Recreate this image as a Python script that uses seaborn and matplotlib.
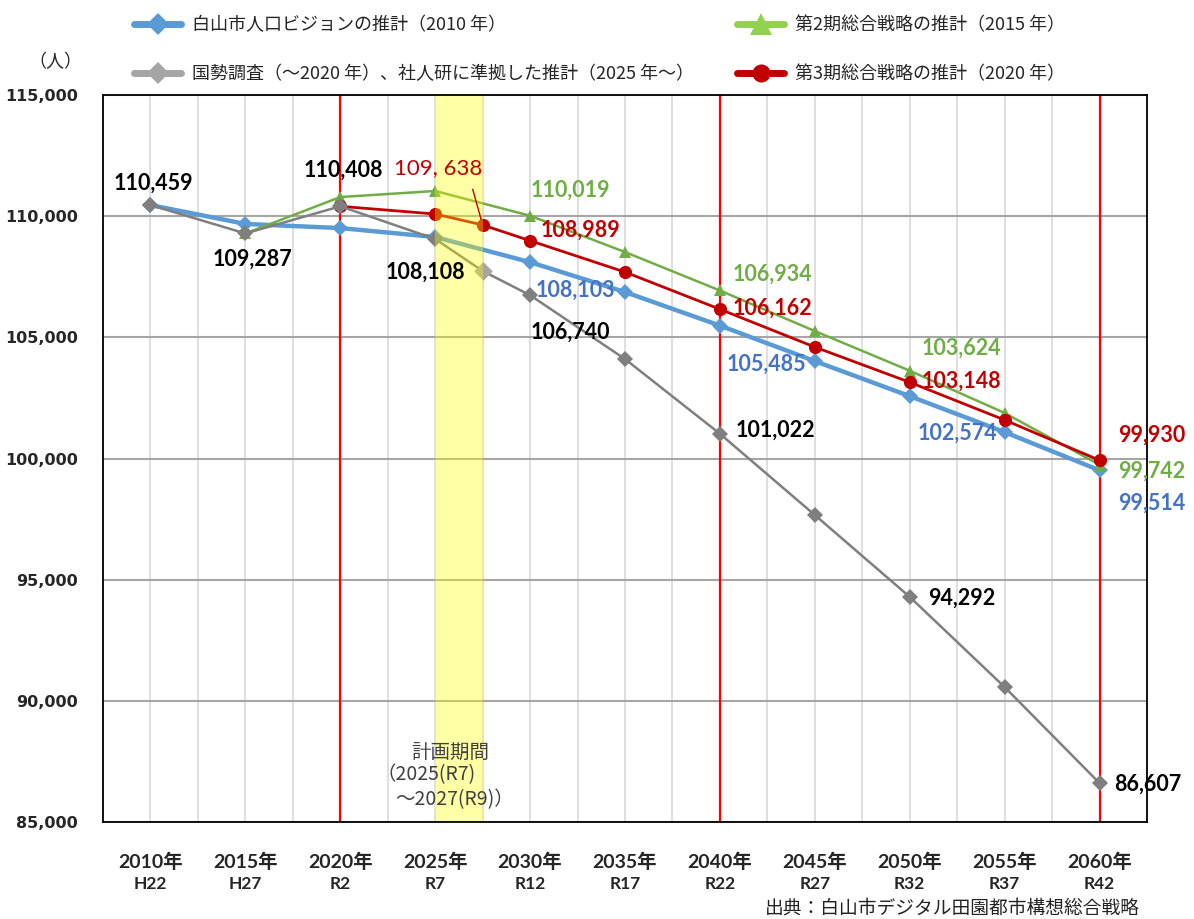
import pandas as pd
import seaborn as sns
import matplotlib.pyplot as plt
from matplotlib.lines import Line2D

# ---- data ----
years = [2010, 2015, 2020, 2025, 2030, 2035, 2040, 2045, 2050, 2055, 2060]
era = ['H22', 'H27', 'R2', 'R7', 'R12', 'R17', 'R22', 'R27', 'R32', 'R37', 'R42']

blue_years = years
blue_vals = [110459, 109680, 109510, 109140, 108103, 106870, 105485, 104020, 102574, 101090, 99514]

green_years = [2015, 2020, 2025, 2030, 2035, 2040, 2045, 2050, 2055, 2060]
green_vals = [109287, 110790, 111040, 110019, 108520, 106934, 105260, 103624, 101880, 99742]

red_years = [2020, 2025, 2027.5, 2030, 2035, 2040, 2045, 2050, 2055, 2060]
red_vals = [110408, 110090, 109638, 108989, 107695, 106162, 104600, 103148, 101590, 99930]

gray_years = [2010, 2015, 2020, 2025, 2027.5, 2030, 2035, 2040, 2045, 2050, 2055, 2060]
gray_vals = [110459, 109287, 110408, 109060, 107740, 106740, 104105, 101022, 97670, 94292, 90570, 86607]
gray_light_year = 2027.5

plan_start, plan_end = 2025, 2027.5
red_marks = [2020, 2040, 2060]

series_names = ['白山市人口ビジョンの推計（2010 年）',
                '国勢調査（～2020 年）、社人研に準拠した推計（2025 年～）',
                '第2期総合戦略の推計（2015 年）',
                '第3期総合戦略の推計（2020 年）']

# (series, year, text, dx px, dy px)
point_labels = [
    ('gray', 2010, '110,459', 3, 22), ('gray', 2015, '109,287', 7, -26),
    ('gray', 2020, '110,408', 3, 36), ('gray', 2027.5, '108,108', -57, -1),
    ('green', 2030, '110,019', 40, 26), ('red', 2030, '108,989', 50, 10),
    ('blue', 2030, '108,103', 45, -28), ('gray', 2030, '106,740', 40, -37),
    ('green', 2040, '106,934', 53, 16), ('red', 2040, '106,162', 53, 1),
    ('blue', 2040, '105,485', 47, -39), ('gray', 2040, '101,022', 56, 4),
    ('green', 2050, '103,624', 52, 23), ('red', 2050, '103,148', 52, 1),
    ('blue', 2050, '102,574', 48, -37), ('gray', 2050, '94,292', 52, -1),
    ('red', 2060, '99,930', 52, 25), ('green', 2060, '99,742', 52, -6),
    ('blue', 2060, '99,514', 52, -33), ('gray', 2060, '86,607', 48, -1),
]

sns.set_theme(style='white')
plt.rcParams['font.family'] = ['Noto Sans CJK JP', 'DejaVu Sans']

c_blue, c_green, c_red, c_gray = '#5B9BD5', '#70AD47', '#C00000', '#7F7F7F'
lab_col = {'blue': '#4472C4', 'green': '#70AD47', 'red': '#C00000', 'gray': 'black'}

fig = plt.figure(figsize=(11.94, 9.19), dpi=100)
ax = fig.add_axes([0.0863, 0.1055, 0.8743, 0.7911])

df_blue = pd.DataFrame({'year': blue_years, 'pop': blue_vals})
df_green = pd.DataFrame({'year': green_years, 'pop': green_vals})
df_red = pd.DataFrame({'year': red_years, 'pop': red_vals})
df_gray = pd.DataFrame({'year': gray_years, 'pop': gray_vals})

sns.lineplot(data=df_blue, x='year', y='pop', ax=ax, color=c_blue, lw=3.2,
             marker='D', markersize=8, markeredgewidth=0, zorder=3)
sns.lineplot(data=df_green, x='year', y='pop', ax=ax, color=c_green, lw=1.8,
             marker='^', markersize=9, markeredgewidth=0, zorder=4)
sns.lineplot(data=df_red, x='year', y='pop', ax=ax, color=c_red, lw=2.0,
             marker='o', markersize=9.5, markeredgewidth=0, zorder=5)
sns.lineplot(data=df_gray, x='year', y='pop', ax=ax, color=c_gray, lw=1.8,
             marker='D', markersize=8, markeredgewidth=0, zorder=6)
light = df_gray[df_gray['year'] == gray_light_year]
sns.scatterplot(data=light, x='year', y='pop', ax=ax, color='#A5A5A5', marker='D',
                s=90, linewidth=0, zorder=7)

# planning period band (semi-transparent on top of the lines)
ax.axvspan(plan_start, plan_end, color='#FFFF00', alpha=0.35, lw=0, zorder=8)
for x in red_marks:
    ax.axvline(x, color='#FF0000', lw=1.6, zorder=2)

ax.set_xlim(2007.5, 2062.5)
ax.set_ylim(85000, 115000)
ax.set_xticks(years)
ax.set_xticks([y + 2.5 for y in [2005] + years], minor=True)
ax.set_yticks(range(85000, 115001, 5000))
ax.grid(axis='x', which='both', color='#D9D9D9', lw=1.2, zorder=0)
ax.grid(axis='y', which='major', color='#A6A6A6', lw=1.5, zorder=0)
ax.tick_params(axis='both', which='both', length=0)
ax.set_xticklabels([f'{y}年' for y in years], fontsize=14, fontweight='bold',
                   family=['Lato', 'Noto Sans CJK JP'])
ax.tick_params(axis='x', pad=22)
ax.set_yticklabels([f'{v:,}' for v in range(85000, 115001, 5000)], fontsize=11.5,
                   fontweight='bold', family=['DejaVu Sans'])
ax.tick_params(axis='y', pad=18)
for y, e in zip(years, era):
    ax.text(y, -0.085, e, transform=ax.get_xaxis_transform(), ha='center', va='center',
            fontsize=12.5, fontweight='bold', family=['Lato', 'DejaVu Sans'])
ax.set_xlabel('')
ax.set_ylabel('')
for s in ax.spines.values():
    s.set_color('black')
    s.set_linewidth(1.3)
    s.set_zorder(10)

# data labels
lookup = {'blue': dict(zip(blue_years, blue_vals)), 'green': dict(zip(green_years, green_vals)),
          'red': dict(zip(red_years, red_vals)), 'gray': dict(zip(gray_years, gray_vals))}
for key, yr, txt, dx, dy in point_labels:
    ax.annotate(txt, (yr, lookup[key][yr]), xytext=(dx, dy), textcoords='offset pixels',
                ha='center', va='center', fontsize=15.5, fontweight='bold',
                color=lab_col[key], family=['Lato', 'DejaVu Sans'], zorder=12,
                annotation_clip=False)
# the arrowed label
ax.annotate('109, 638', (2027.5, lookup['red'][2027.5]), xytext=(-44, 57),
            textcoords='offset pixels', ha='center', va='center', fontsize=16,
            color=c_red, family=['Lato', 'DejaVu Sans'], zorder=12,
            arrowprops=dict(arrowstyle='-', color=c_red, lw=1.0, shrinkA=6, shrinkB=4,
                            relpos=(0.85, 0.0)))
# planning period note
note_kw = dict(va='center', fontsize=14, color='#404040', zorder=12)
ax.text(2025.8, 87880, '計画期間', ha='center', **note_kw)
ax.text(2021.9, 86940, '（2025(R7)', ha='left', **note_kw)
ax.text(2022.9, 85920, '～2027(R9)）', ha='left', **note_kw)

fig.text(55 / 1194, 1 - 62 / 919, '（人）', ha='center', va='center', fontsize=13)
fig.text(765 / 1194, 1 - 908 / 919, '出典：白山市デジタル田園都市構想総合戦略',
         ha='left', va='center', fontsize=13.5, color='#222222')

handles = [
    Line2D([], [], color=c_blue, lw=5, marker='D', markersize=11, markeredgewidth=0),
    Line2D([], [], color='#A5A5A5', lw=5, marker='D', markersize=11, markeredgewidth=0),
    Line2D([], [], color='#92D050', lw=5, marker='^', markersize=16, markeredgewidth=0),
    Line2D([], [], color=c_red, lw=5, marker='o', markersize=13, markeredgewidth=0),
]
fig.legend(handles, series_names, ncol=2, loc='upper left', bbox_to_anchor=(118 / 1194, 1.0),
           frameon=False, fontsize=13, labelspacing=1.7, columnspacing=2.4,
           handlelength=2.6, handletextpad=0.6, borderaxespad=0.5)

fig.savefig('out.png', dpi=100)
